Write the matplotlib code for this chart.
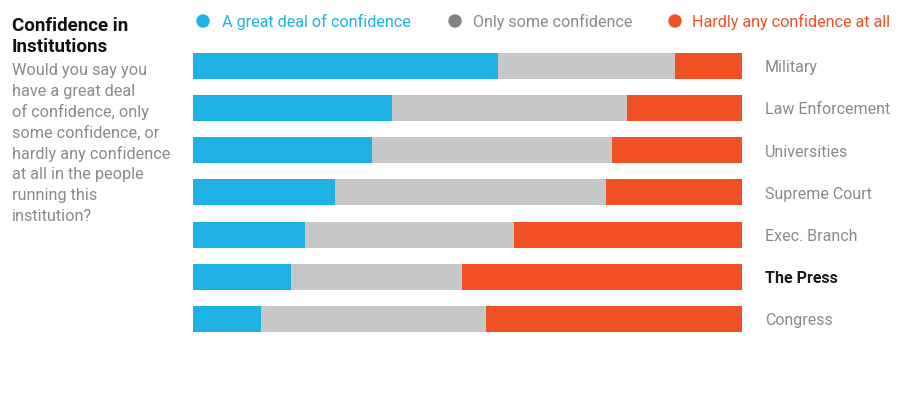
import matplotlib
matplotlib.use("Agg")
import matplotlib.pyplot as plt
import numpy as np

categories = ["Military", "Law Enforcement", "Universities", "Supreme Court",
              "Exec. Branch", "The Press", "Congress"]
great_deal = [55.6, 36.2, 32.5, 25.8, 20.3, 17.8, 12.3]
only_some = [32.2, 42.9, 43.9, 49.4, 38.2, 31.2, 41.1]
hardly_any = [12.2, 20.9, 23.6, 24.8, 41.5, 51.0, 46.6]
series_names = ["A great deal of confidence", "Only some confidence",
                "Hardly any confidence at all"]

BLUE = "#1DB1E5"
GREY = "#C6C7C9"
RED = "#F15024"
LABEL_GREY = "#8A8A8A"

FONT = ["Roboto", "DejaVu Sans"]
plt.rcParams["font.family"] = FONT

W, H = 912, 394
fig = plt.figure(figsize=(W / 100, H / 100), dpi=100)

# axes in pixel coords
x0, x1 = 193.3, 741.7
band = (319 - 65.5) / 6
ytop = 65.5 - band / 2
ybot = 319 + band / 2
ax = fig.add_axes([x0 / W, 1 - ybot / H, (x1 - x0) / W, (ybot - ytop) / H])

y = np.arange(len(categories))
h = 26 / band
g = np.array(great_deal)
o = np.array(only_some)
r = np.array(hardly_any)
ax.barh(y, g, height=h, color=BLUE, linewidth=0)
ax.barh(y, o, left=g, height=h, color=GREY, linewidth=0)
ax.barh(y, r, left=g + o, height=h, color=RED, linewidth=0)
ax.set_xlim(0, 100)
ax.set_ylim(len(categories) - 0.5, -0.5)
ax.axis("off")

for i, cat in enumerate(categories):
    bold = cat == "The Press"
    ax.text(765 / W, 1 - (67.5 + i * band) / H, cat, transform=fig.transFigure,
            ha="left", va="center", fontsize=11.5,
            color="#1a1a1a" if bold else LABEL_GREY,
            fontweight="bold" if bold else "normal")

# legend
leg_x = [203, 455, 675]
leg_tx = [222, 473, 692]
leg_col = [BLUE, "#808184", RED]
leg_tcol = [BLUE, LABEL_GREY, RED]
for cx, tx, c, tc, name in zip(leg_x, leg_tx, leg_col, leg_tcol, series_names):
    fig.patches.append(matplotlib.patches.Ellipse((cx / W, 1 - 21 / H), 12 / W, 12 / H,
                                                  transform=fig.transFigure, color=c))
    fig.text(tx / W, 1 - 21.5 / H, name, ha="left", va="center", fontsize=11.6, color=tc)

# title
fig.text(12 / W, 1 - 26 / H, "Confidence in", ha="left", va="center",
         fontsize=13.5, fontweight="bold", color="#111111")
fig.text(12 / W, 1 - 47 / H, "Institutions", ha="left", va="center",
         fontsize=13.5, fontweight="bold", color="#111111")
body = ["Would you say you", "have a great deal", "of confidence, only",
        "some confidence, or", "hardly any confidence", "at all in the people",
        "running this", "institution?"]
for i, line in enumerate(body):
    fig.text(12 / W, 1 - (70.5 + i * 20.9) / H, line, ha="left", va="center",
             fontsize=11.7, color=LABEL_GREY)

fig.savefig("out.png", dpi=100, facecolor="white")
